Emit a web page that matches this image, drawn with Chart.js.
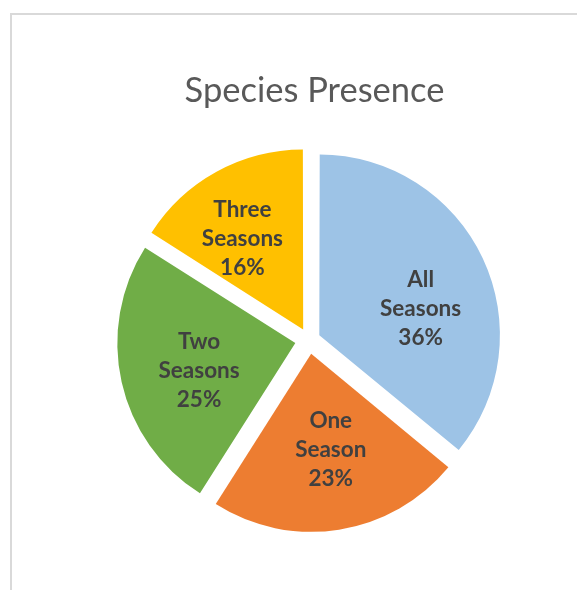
<!DOCTYPE html>
<html><head><meta charset="utf-8">
<script src="https://cdn.jsdelivr.net/npm/chart.js@4/dist/chart.umd.min.js"></script>
<style>
html,body{margin:0;padding:0;width:577px;height:590px;overflow:hidden;background:#fff;}
#frame{position:absolute;left:10px;top:13px;width:700px;height:700px;border:2px solid #d9d9d9;box-sizing:border-box;}
#wrap{position:absolute;left:0;top:0;width:577px;height:590px;}
</style></head><body>
<div id="frame"></div>
<div id="wrap"><canvas id="c" width="577" height="590"></canvas></div>
<script>
const categories = ['All Seasons', 'One Season', 'Two Seasons', 'Three Seasons'];
const labelLines = [['All', 'Seasons'], ['One', 'Season'], ['Two', 'Seasons'], ['Three', 'Seasons']];
const values = [36, 23, 25, 16];
const colors = ['#9DC3E6', '#ED7D31', '#70AD47', '#FFC000'];
const titleText = 'Species Presence';

const total = values.reduce((a, b) => a + b, 0);
const EXPLODE = 14;
const LABEL_NUDGE_DEG = [9.4, -2.2, -2.8, -4.6];
const LABEL_DIST = [116, 112, 114, 121];

const titlePlugin = {
  id: 'customTitle',
  afterDraw(chart) {
    const ctx = chart.ctx;
    ctx.save();
    ctx.font = '34.5px Lato, "Open Sans", sans-serif';
    ctx.fillStyle = '#595959';
    ctx.textAlign = 'center';
    ctx.textBaseline = 'alphabetic';
    ctx.fillText(titleText, 314.5, 102);
    ctx.restore();
  }
};

const labelPlugin = {
  id: 'sliceLabels',
  afterDatasetsDraw(chart) {
    const ctx = chart.ctx;
    const meta = chart.getDatasetMeta(0);
    ctx.save();
    ctx.font = 'bold 22.5px Lato, "Open Sans", sans-serif';
    ctx.fillStyle = '#404040';
    ctx.textAlign = 'center';
    ctx.textBaseline = 'middle';
    meta.data.forEach((arc, i) => {
      const p = arc.getProps(['x', 'y', 'startAngle', 'endAngle'], true);
      const mid = (p.startAngle + p.endAngle) / 2 + LABEL_NUDGE_DEG[i] * Math.PI / 180;
      const cx = p.x + Math.cos(mid) * LABEL_DIST[i];
      const cy = p.y + Math.sin(mid) * LABEL_DIST[i];
      const lines = labelLines[i].concat([Math.round(values[i] / total * 100) + '%']);
      const lh = 29;
      lines.forEach((t, k) => {
        ctx.fillText(t, cx, cy + (k - (lines.length - 1) / 2) * lh);
      });
    });
    ctx.restore();
  }
};

new Chart(document.getElementById('c'), {
  type: 'pie',
  data: {
    labels: categories,
    datasets: [{
      data: values,
      backgroundColor: colors,
      borderWidth: 0,
      offset: (c) => {
        const circ = values[c.dataIndex] / total * Math.PI * 2;
        const fix = 1 - Math.sin(Math.min(Math.PI, circ));
        return EXPLODE * 4 / (1 + fix);
      }
    }]
  },
  options: {
    responsive: false,
    animation: false,
    events: [],
    radius: 178,
    layout: { padding: { left: 109, right: 68, top: 140, bottom: 50 } },
    plugins: {
      legend: { display: false },
      tooltip: { enabled: false },
      title: { display: false }
    }
  },
  plugins: [titlePlugin, labelPlugin]
});
</script>
</body></html>
